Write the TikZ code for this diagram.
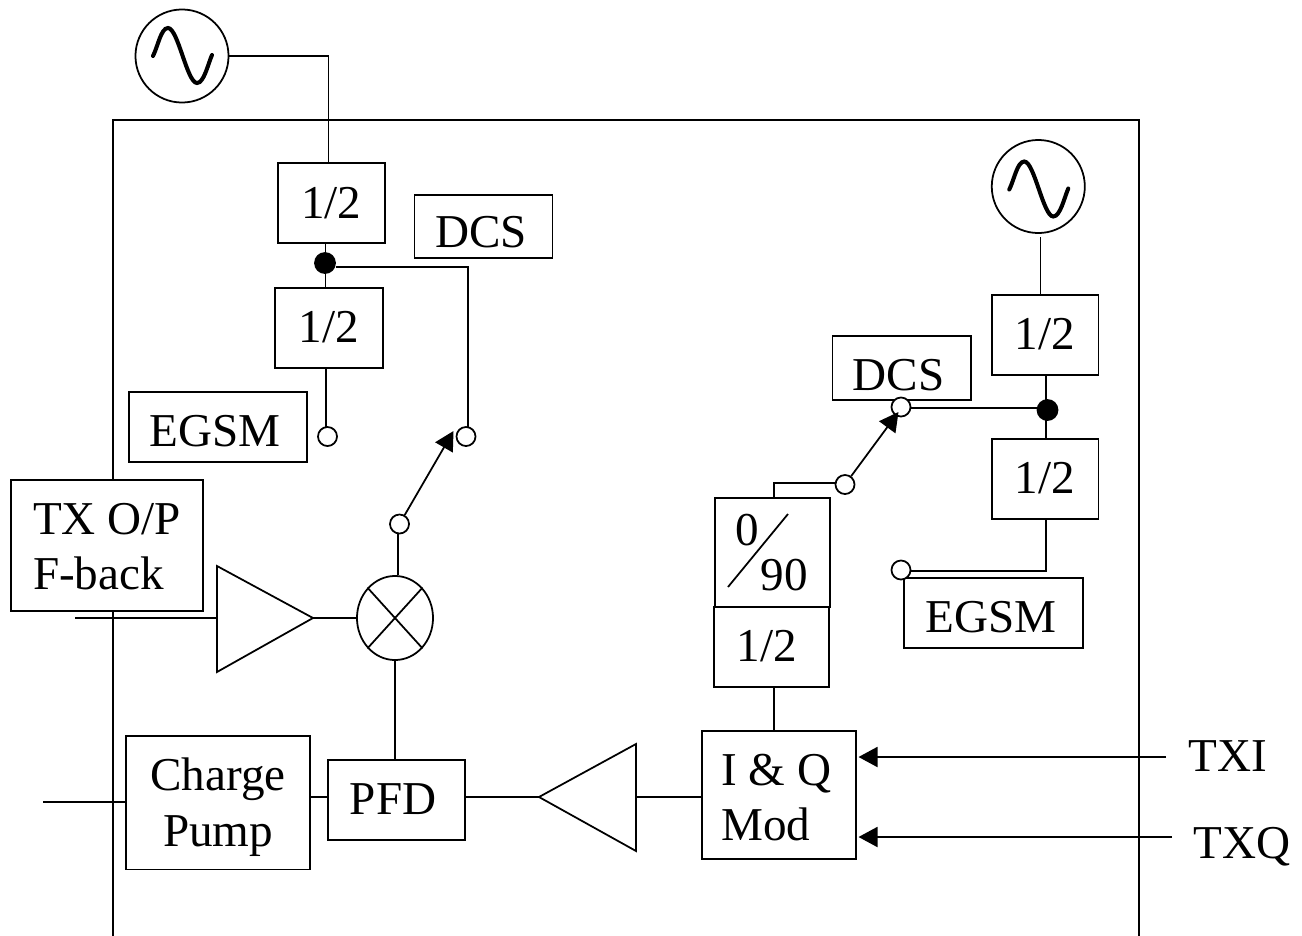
\documentclass[tikz,border=0pt]{standalone}
\usepackage{fontspec}
\setmainfont{Liberation Serif}
\usetikzlibrary{arrows.meta,shapes.geometric}

\tikzset{
	wire/.style={line width=0.5pt},
	feed/.style={wire, -{Triangle[length=5.4pt,width=5.7pt]}},
	block/.style={draw, wire, fill=white, inner sep=0pt, align=center, font=\fontsize{13.4}{15.65}\selectfont},
	caption/.style={inner sep=0pt, text height=0pt, text depth=0pt, font=\fontsize{13.4}{15.65}\selectfont},
	drop/.style={text height=#1, text depth=0pt},
	contact/.style={draw, wire, circle, fill=white, minimum size=0.19cm, inner sep=0pt},
	joint/.style={draw, wire, circle, fill=black, minimum size=0.2cm, inner sep=0pt},
	osc/.style={draw, wire, circle, minimum size=0.93cm, inner sep=0pt},
	sine/.style={line width=1.15pt, line cap=round},
	amp/.style={draw, wire}
}
% one period of the wave inside an oscillator
\newcommand{\sinewave}[2]{
	\draw[sine, shift={(#1.center)}, shift={(0,#2)}] (-29,0) .. controls (-24,-10) and (-21,-28) .. (-14,-28)
		.. controls (-4,-28) and (5,27) .. (15,27)
		.. controls (22,27) and (26,8) .. (30,-1);
}

\begin{document}
\begin{tikzpicture}[x=0.01cm,y=-0.01cm]
	\useasboundingbox (0,0) rectangle (1302,936);

	%chip outline
	\draw[wire] (113,936) -- (113,120) -- (1139,120) -- (1139,936);

	%left synthesiser chain
	\node[osc] (oscL) at (182,56) {};
	\sinewave{oscL}{0}
	\node[block,drop=0.312cm,minimum width=1.07cm,minimum height=0.8cm] (divLa) at (331.3,202.7) {1/2};
	\node[block,drop=0.294cm,minimum width=1.08cm,minimum height=0.8cm] (divLb) at (328.8,328) {1/2};
	\node[block,drop=0.416cm,minimum width=1.38cm,minimum height=0.63cm] (dcsL) at (483.5,226.7) {DCS\hspace*{0.05cm}};
	\node[block,drop=0.385cm,minimum width=1.78cm,minimum height=0.7cm] (egsmL) at (218,426.8) {EGSM\hspace*{0.066cm}};
	\node[joint] (jointL) at (325,263) {};
	\node[contact] (egsmPinL) at (327.5,436.5) {};
	\node[contact] (dcsPinL) at (466,436.5) {};
	\node[contact] (mixPin) at (399.5,524) {};
	\coordinate (tipL) at (453.5,431);

	\draw[wire] (oscL.east) -- (328.5,56) -- (328.5,162);
	\draw[wire] (325.5,242) -- (325.5,288);
	\draw[wire] (jointL.east |- 0,267) -- (468,267) -- (468,427);
	\draw[wire] (326,368) -- (326,427);
	\draw[feed] (mixPin) -- (tipL);

	%feedback path
	\node[block,align=left,drop=0.876cm,minimum width=1.92cm,minimum height=1.31cm] (txfb) at (107,545.5) {TX O/P\\F-back};
	\draw[amp] (217,566) -- (313,618) -- (217,672) -- cycle;
	\coordinate (ampL) at (217,618);
	\coordinate (ampLout) at (313,618);
	\coordinate (fbin) at (75,618);
	\node[draw,wire,ellipse,minimum width=0.76cm,minimum height=0.84cm,inner sep=0pt] (mix) at (395,618) {};
	\draw[wire] (mix.north west) -- (mix.south east);
	\draw[wire] (mix.north east) -- (mix.south west);
	\draw[wire] (fbin) -- (ampL);
	\draw[wire] (ampLout) -- (mix);
	\draw[wire] (mix.north -| 398,0) -- (mixPin.south -| 398,0);

	%loop
	\node[block,drop=0.864cm,minimum width=1.84cm,minimum height=1.335cm] (pump) at (218,802.8) {Charge\\Pump};
	\node[block,drop=0.28cm,minimum width=1.37cm,minimum height=0.8cm] (pfd) at (396.7,800.3) {PFD\hspace*{0.07cm}};
	\node[block,align=left,drop=0.918cm,minimum width=1.54cm,minimum height=1.277cm] (mod) at (779.2,794.8) {I \& Q\hspace*{0.06cm}\\Mod};
	\coordinate (pumpin) at (43,802);
	\draw[amp] (539,797) -- (636,744) -- (636,851) -- cycle;
	\coordinate (ampRin) at (636,797);
	\coordinate (ampRout) at (539,797);
	\draw[wire] (pumpin) -- (pumpin -| pump.west);
	\draw[wire] (pump.east |- 0,797) -- (pfd.west |- 0,797);
	\draw[wire] (mix.south) -- (mix.south |- pfd.north);
	\draw[wire] (pfd.east |- 0,797) -- (ampRout);
	\draw[wire] (ampRin) -- (mod.west |- 0,797);

	%right synthesiser chain
	\node[osc] (oscR) at (1038.3,186.5) {};
	\sinewave{oscR}{3}
	\node[block,drop=0.294cm,minimum width=1.067cm,minimum height=0.8cm] (divRa) at (1045,335) {1/2};
	\node[block,drop=0.28cm,minimum width=1.067cm,minimum height=0.8cm] (divRb) at (1045,479.3) {1/2};
	\node[block,drop=0.44cm,minimum width=1.383cm,minimum height=0.64cm] (dcsR) at (901.8,368) {DCS\hspace*{0.06cm}};
	\node[block,drop=0.388cm,minimum width=1.79cm,minimum height=0.7cm] (egsmR) at (993.7,613.3) {EGSM\hspace*{0.05cm}};
	\node[block,minimum width=1.15cm,minimum height=1.09cm] (phase) at (772.5,552.7) {};
	\node[caption] (phaseA) at (747,545) {0};
	\node[caption] (phaseB) at (784,590) {90};
	\draw[wire] (728,587) -- (788,514);
	\node[block,drop=0.294cm,minimum width=1.15cm,minimum height=0.8cm] (divM) at (771.7,647) {1/2\hspace*{0.1cm}};
	\node[joint] (jointR) at (1047.5,410) {};
	\node[contact] (dcsPinR) at (901,407) {};
	\node[contact] (egsmPinR) at (901,570) {};
	\node[contact] (modPin) at (845,484.5) {};
	\coordinate (tipR) at (898.5,412);

	\draw[wire,shorten <=1pt] (oscR.south -| 1040.5,0) -- (divRa.north -| 1040.5,0);
	\draw[wire] (divRa.south -| 1046,0) -- (divRb.north -| 1046,0);
	\draw[wire] (dcsPinR.east |- 0,408.3) -- (jointR.west |- 0,408.3);
	\draw[wire] (divRb.south -| 1046,0) -- (1046,570.7) -- (egsmPinR.east |- 0,570.7);
	\draw[wire] (phase.north -| 774,0) -- (774,483) -- (modPin.west |- 0,483);
	\draw[feed] (modPin) -- (tipR);
	\draw[wire] (divM.south -| 774,0) -- (mod.north -| 774,0);

	%baseband inputs
	\node[caption] (txi) at (1228,771) {TXI};
	\node[caption] (txq) at (1242,858) {TXQ};
	\coordinate (txiend) at (1166,757);
	\coordinate (txqend) at (1172,837);
	\draw[feed,shorten >=0.4pt] (txiend) -- (txiend -| mod.east);
	\draw[feed,shorten >=0.4pt] (txqend) -- (txqend -| mod.east);
\end{tikzpicture}
\end{document}
